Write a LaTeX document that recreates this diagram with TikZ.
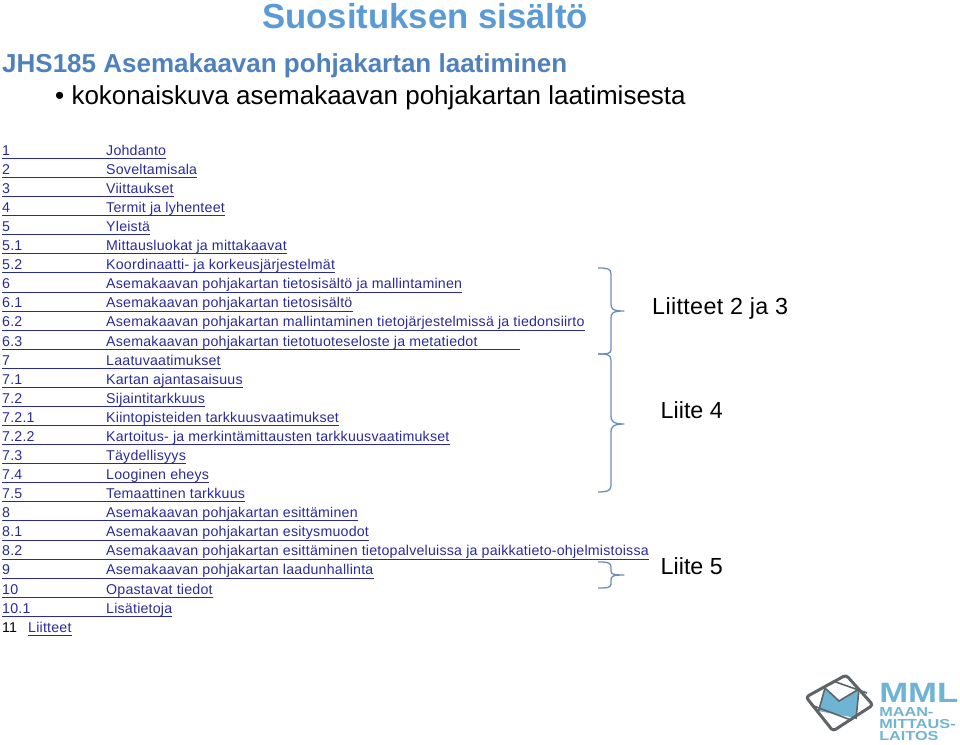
\documentclass[tikz,border=0pt]{standalone}
\usepackage{fontspec}
\setmainfont{Liberation Sans}
\definecolor{linkblue}{HTML}{2A2A9A}
\definecolor{headblue}{HTML}{4F81BD}
\definecolor{titleblue}{HTML}{5B9BD5}
\definecolor{bracecol}{HTML}{6B8DB8}
\definecolor{logoblue}{HTML}{6FB4D2}
\definecolor{logogray}{HTML}{5F6468}
\newcommand{\tocrow}[4]{%
  \node[tocnum] (n#1) at (2,{-(155.2+19.08*#1)}) {#2};
  \node[toctext] (t#1) at (106,{-(155.2+19.08*#1)}) {#3};
  \coordinate (u#1a) at ([yshift=-3.2]n#1.base west);
  \coordinate (u#1b) at ([yshift=-3.2,xshift=#4]t#1.base east);
  \draw[tocline] (u#1a) -- (u#1b);
}
\begin{document}
\begin{tikzpicture}[x=1pt,y=1pt,
  tocnum/.style={inner sep=0pt,anchor=base west,text=linkblue,font=\fontsize{14.2}{16}\selectfont\addfontfeature{LetterSpace=1.5}},
  toctext/.style={inner sep=0pt,anchor=base west,text=linkblue,font=\fontsize{14.2}{16}\selectfont\addfontfeature{LetterSpace=1.5}},
  tocline/.style={draw=linkblue,line width=0.9pt},
  brace/.style={draw=bracecol,line width=1.3pt,line join=round},
  lbl/.style={inner sep=0pt,anchor=base west,text=black,font=\fontsize{23.3}{26}\selectfont}]
\useasboundingbox (0,0) rectangle (960,-744);
\node[inner sep=0pt,anchor=base west,text=titleblue,font=\fontsize{34.7}{40}\selectfont\bfseries] (title) at (262,-28) {Suosituksen sisältö};
\node[inner sep=0pt,anchor=base west,text=headblue,font=\fontsize{26}{30}\selectfont\bfseries] (head) at (2,-72) {JHS185 Asemakaavan pohjakartan laatiminen};
\node[inner sep=0pt,anchor=base west,text=black,font=\fontsize{26}{30}\selectfont] (sub) at (55,-104) {• kokonaiskuva asemakaavan pohjakartan laatimisesta};
\tocrow{0}{1}{Johdanto}{0}
\tocrow{1}{2}{Soveltamisala}{0}
\tocrow{2}{3}{Viittaukset}{0}
\tocrow{3}{4}{Termit ja lyhenteet}{0}
\tocrow{4}{5}{Yleistä}{0}
\tocrow{5}{5.1}{Mittausluokat ja mittakaavat}{0}
\tocrow{6}{5.2}{Koordinaatti- ja korkeusjärjestelmät}{0}
\tocrow{7}{6}{Asemakaavan pohjakartan tietosisältö ja mallintaminen}{0}
\tocrow{8}{6.1}{Asemakaavan pohjakartan tietosisältö}{0}
\tocrow{9}{6.2}{Asemakaavan pohjakartan mallintaminen tietojärjestelmissä ja tiedonsiirto}{0}
\tocrow{10}{6.3}{Asemakaavan pohjakartan tietotuoteseloste ja metatiedot}{42}
\tocrow{11}{7}{Laatuvaatimukset}{0}
\tocrow{12}{7.1}{Kartan ajantasaisuus}{0}
\tocrow{13}{7.2}{Sijaintitarkkuus}{0}
\tocrow{14}{7.2.1}{Kiintopisteiden tarkkuusvaatimukset}{0}
\tocrow{15}{7.2.2}{Kartoitus- ja merkintämittausten tarkkuusvaatimukset}{0}
\tocrow{16}{7.3}{Täydellisyys}{0}
\tocrow{17}{7.4}{Looginen eheys}{0}
\tocrow{18}{7.5}{Temaattinen tarkkuus}{0}
\tocrow{19}{8}{Asemakaavan pohjakartan esittäminen}{0}
\tocrow{20}{8.1}{Asemakaavan pohjakartan esitysmuodot}{0}
\tocrow{21}{8.2}{Asemakaavan pohjakartan esittäminen tietopalveluissa ja paikkatieto-ohjelmistoissa}{0}
\tocrow{22}{9}{Asemakaavan pohjakartan laadunhallinta}{0}
\tocrow{23}{10}{Opastavat tiedot}{0}
\tocrow{24}{10.1}{Lisätietoja}{0}
\node[inner sep=0pt,anchor=base west,text=black,font=\fontsize{14.2}{16}\selectfont] (n25) at (2,-632.2) {11};
\node[toctext] (t25) at (28,-632.2) {Liitteet};
\draw[tocline] ([yshift=-3.2]t25.base west) -- ([yshift=-3.2]t25.base east);
% braces
\draw[brace] (598,-268) .. controls (606,-268) and (611,-268) .. (611,-274) -- (611,-304)
  .. controls (611,-309) and (613,-311) .. (624,-311)
  .. controls (613,-311) and (611,-313) .. (611,-318) -- (611,-350)
  .. controls (611,-354) and (606,-354) .. (598,-354);
\draw[brace] (598,-354) .. controls (606,-354) and (611,-354) .. (611,-360) -- (611,-416)
  .. controls (611,-421) and (613,-424) .. (624,-424)
  .. controls (613,-424) and (611,-427) .. (611,-432) -- (611,-486)
  .. controls (611,-491) and (606,-492) .. (598,-492);
\draw[brace] (598,-562) .. controls (606,-562) and (611,-562) .. (611,-567) -- (611,-571)
  .. controls (611,-574) and (613,-575) .. (624,-575)
  .. controls (613,-575) and (611,-576) .. (611,-580) -- (611,-584)
  .. controls (611,-588) and (606,-588) .. (598,-588);
\node[lbl,font=\fontsize{23.3}{26}\selectfont\addfontfeature{LetterSpace=1.5}] (a) at (652,-314.5) {Liitteet 2 ja 3};
\node[lbl] (b) at (660.5,-418.5) {Liite 4};
\node[lbl] (c) at (660.5,-574.5) {Liite 5};
% logo
\fill[logoblue] (825,-688) -- (839,-701) -- (859,-689) -- (856,-718) -- (818,-711) -- cycle;
\draw[logogray,line width=3pt,line join=round,rounded corners=3pt] (806,-697) -- (846,-675) -- (873,-705) -- (833,-731) -- cycle;
\draw[logogray,line width=1.6pt] (833,-681) -- (867,-693);
\draw[logogray,line width=1.6pt] (825,-688) -- (839,-701) -- (859,-689);
\draw[logogray,line width=1.6pt] (825,-688) -- (818,-713);
\draw[logogray,line width=1.6pt] (811,-705) -- (851,-720);
\draw[logogray,line width=1.6pt] (859,-689) -- (856,-719);
\node[inner sep=0pt,anchor=base west,text=logoblue,font=\fontsize{28}{28}\selectfont\bfseries,xscale=1.24] (mml) at (879,-702) {MML};
\node[inner sep=0pt,anchor=base west,text=logoblue,font=\fontsize{13}{13}\selectfont\bfseries,xscale=1.25] (l1) at (879,-716) {MAAN-};
\node[inner sep=0pt,anchor=base west,text=logoblue,font=\fontsize{13}{13}\selectfont\bfseries,xscale=1.25] (l2) at (879,-728) {MITTAUS-};
\node[inner sep=0pt,anchor=base west,text=logoblue,font=\fontsize{13}{13}\selectfont\bfseries,xscale=1.25] (l3) at (879,-740) {LAITOS};
\end{tikzpicture}
\end{document}
